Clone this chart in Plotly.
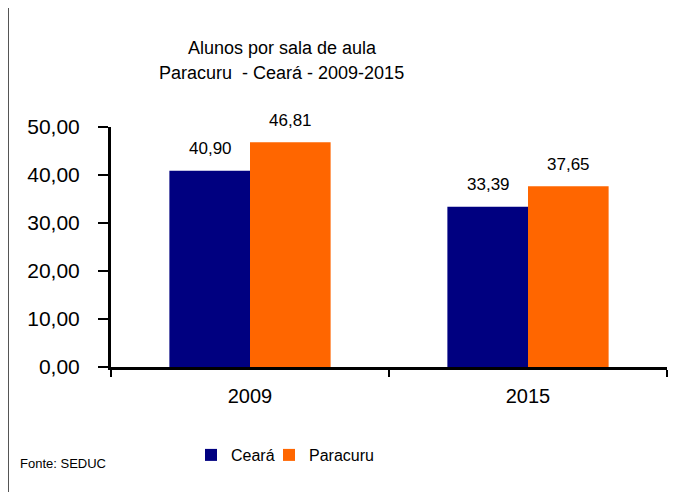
import plotly.graph_objects as go

categories = ["2009", "2015"]
ceara = [40.90, 33.39]
paracuru = [46.81, 37.65]
series_names = ["Ceará", "Paracuru"]
y_ticks = [0, 10, 20, 30, 40, 50]
y_tick_labels = ["0,00", "10,00", "20,00", "30,00", "40,00", "50,00"]

# page is offset by the 8px body margin; work in page coordinates
OFF = 8
W, H = 683, 484
PL, PR, PT, PB = 111, 667, 127, 367   # plot area in page pixels
L, T = PL - OFF, PT - OFF
R, B = W - (PR - OFF), H - (PB - OFF)
pw, ph = PR - PL, PB - PT

def px(x):
    return (x - PL) / pw

def py(y):
    return (PB - y) / ph

FONT = "Liberation Sans, Arial, sans-serif"

def fmt(v):
    return f"{v:.2f}".replace(".", ",")

fig = go.Figure()
fig.add_trace(go.Bar(x=categories, y=ceara, name=series_names[0], legend="legend",
                     marker=dict(color="#000080", line=dict(width=0))))
fig.add_trace(go.Bar(x=categories, y=paracuru, name=series_names[1], legend="legend2",
                     marker=dict(color="#FF6600", line=dict(width=0))))

annotations = []
for vals, shift in ((ceara, -40), (paracuru, 40)):
    for i, v in enumerate(vals):
        annotations.append(dict(x=i, y=v, xref="x", yref="y", text=fmt(v),
                                showarrow=False, xshift=shift, yshift=22,
                                font=dict(family=FONT, size=17, color="#000")))

annotations.append(dict(text="Fonte: SEDUC", xref="paper", yref="paper",
                        x=px(18), y=py(463), xanchor="left",
                        yanchor="middle", showarrow=False,
                        font=dict(family=FONT, size=13, color="#000")))
annotations.append(dict(text="Alunos por sala de aula", xref="paper", yref="paper",
                        x=px(282), y=py(48), xanchor="center", yanchor="middle",
                        showarrow=False, font=dict(family=FONT, size=18, color="#000")))
annotations.append(dict(text="Paracuru  - Ceará - 2009-2015", xref="paper", yref="paper",
                        x=px(281), y=py(73), xanchor="center", yanchor="middle",
                        showarrow=False, font=dict(family=FONT, size=18, color="#000")))

legend_common = dict(orientation="h", xanchor="left", yanchor="middle",
                     font=dict(family=FONT, size=16, color="#000"),
                     itemwidth=30, bgcolor="rgba(0,0,0,0)")

fig.update_layout(
    width=W, height=H,
    margin=dict(l=L, r=R, t=T, b=B, pad=0, autoexpand=False),
    paper_bgcolor="white", plot_bgcolor="white",
    barmode="group", bargap=0.42, bargroupgap=0,
    showlegend=True,
    legend=dict(x=px(191), y=py(455), **legend_common),
    legend2=dict(x=px(269), y=py(455), **legend_common),
    annotations=annotations,
    xaxis=dict(type="category", range=[-0.5, 1.5], showline=True, linecolor="#000", linewidth=3,
               ticks="outside", tickson="boundaries", ticklen=7, tickwidth=2,
               tickcolor="#000", showgrid=False, zeroline=False, tickangle=0,
               tickfont=dict(family=FONT, size=20, color="#000"),
               ticklabelstandoff=9),
    yaxis=dict(range=[0, 50], tickvals=y_ticks, ticktext=y_tick_labels,
               showline=True, linecolor="#000", linewidth=3,
               ticks="outside", ticklen=10, tickwidth=2, tickcolor="#000",
               showgrid=False, zeroline=False,
               tickfont=dict(family=FONT, size=21, color="#000"),
               ticklabelstandoff=14),
)

# outer chart border (top and left)
fig.add_shape(type="line", xref="paper", yref="paper",
              x0=px(7), x1=px(700), y0=py(7), y1=py(7),
              line=dict(color="#333", width=2))
fig.add_shape(type="line", xref="paper", yref="paper",
              x0=px(8), x1=px(8), y0=py(7), y1=py(500),
              line=dict(color="#555", width=2))

fig.write_html("out.html")
